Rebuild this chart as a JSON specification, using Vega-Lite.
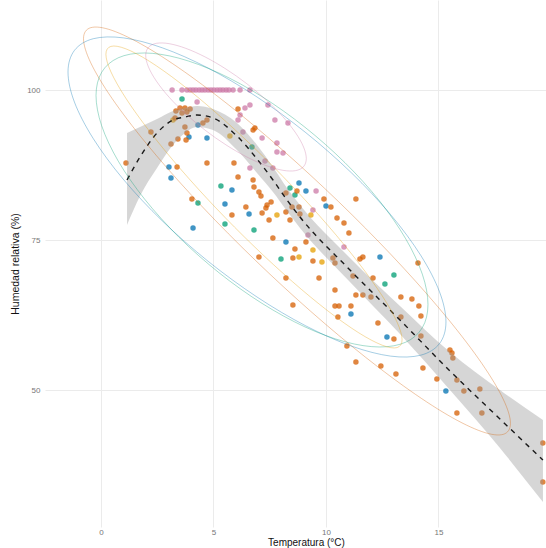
{
  "$schema": "https://vega.github.io/schema/vega-lite/v6.json",
  "autosize": {"type": "none"},
  "padding": {"left": 45, "top": 0, "right": 0, "bottom": 21},
  "width": 501,
  "height": 527,
  "background": "white",
  "config": {
    "view": {"stroke": null},
    "font": "Liberation Sans",
    "axisX": {"grid": true, "gridColor": "#EBEBEB", "gridWidth": 1, "domain": false, "ticks": false, "labelFontSize": 8, "labelColor": "#777777", "labelPadding": 1, "titleFontSize": 10, "titleFontWeight": "normal", "titleColor": "#111111", "titleX": 261, "titleY": 15, "titleBaseline": "middle"},
    "axisY": {"grid": true, "gridColor": "#EBEBEB", "gridWidth": 1, "domain": false, "ticks": false, "labelFontSize": 8, "labelColor": "#777777", "labelPadding": 5, "titleFontSize": 10.5, "titleFontWeight": "normal", "titleColor": "#111111", "titleX": -30, "titleY": 263.5, "titleAngle": 270, "titleBaseline": "middle", "titleAlign": "center"}
  },
  "datasets": {
    "pts": [
      {"t": 3.16, "h": 100, "g": "P"}, {"t": 3.6, "h": 100, "g": "P"}, {"t": 3.82, "h": 100, "g": "P"}, {"t": 3.96, "h": 100, "g": "P"},
      {"t": 4.09, "h": 100, "g": "P"}, {"t": 4.22, "h": 100, "g": "P"}, {"t": 4.36, "h": 100, "g": "P"}, {"t": 4.49, "h": 100, "g": "P"},
      {"t": 4.62, "h": 100, "g": "P"}, {"t": 4.76, "h": 100, "g": "P"}, {"t": 4.89, "h": 100, "g": "P"}, {"t": 5.02, "h": 100, "g": "P"},
      {"t": 5.16, "h": 100, "g": "P"}, {"t": 5.29, "h": 100, "g": "P"}, {"t": 5.42, "h": 100, "g": "P"}, {"t": 5.56, "h": 100, "g": "P"},
      {"t": 5.69, "h": 100, "g": "P"}, {"t": 5.87, "h": 100, "g": "P"}, {"t": 6.18, "h": 100, "g": "P"}, {"t": 6.62, "h": 100, "g": "P"},
      {"t": 4.27, "h": 98.0, "g": "P"}, {"t": 6.4, "h": 97.0, "g": "P"}, {"t": 6.18, "h": 95.83, "g": "P"}, {"t": 6.09, "h": 95.0, "g": "P"},
      {"t": 6.31, "h": 93.0, "g": "P"}, {"t": 6.62, "h": 97.5, "g": "P"}, {"t": 7.42, "h": 97.5, "g": "P"}, {"t": 7.16, "h": 92.0, "g": "P"},
      {"t": 7.73, "h": 95.0, "g": "P"}, {"t": 8.31, "h": 94.5, "g": "P"}, {"t": 7.82, "h": 91.17, "g": "P"}, {"t": 8.09, "h": 89.5, "g": "P"},
      {"t": 7.82, "h": 89.67, "g": "P"}, {"t": 7.64, "h": 87.0, "g": "P"}, {"t": 6.62, "h": 87.0, "g": "P"}, {"t": 7.29, "h": 88.17, "g": "P"},
      {"t": 9.56, "h": 83.17, "g": "P"}, {"t": 9.42, "h": 80.0, "g": "P"}, {"t": 10.8, "h": 73.83, "g": "P"}, {"t": 9.2, "h": 75.83, "g": "P"},
      {"t": 4.31, "h": 94.17, "g": "B"}, {"t": 3.91, "h": 92.17, "g": "B"}, {"t": 4.71, "h": 92.0, "g": "B"}, {"t": 3.02, "h": 87.17, "g": "B"},
      {"t": 3.11, "h": 85.33, "g": "B"}, {"t": 5.82, "h": 83.33, "g": "B"}, {"t": 5.51, "h": 81.0, "g": "B"}, {"t": 6.58, "h": 79.33, "g": "B"},
      {"t": 4.09, "h": 77.0, "g": "B"}, {"t": 8.8, "h": 84.5, "g": "B"}, {"t": 9.11, "h": 83.17, "g": "B"}, {"t": 10.0, "h": 80.67, "g": "B"},
      {"t": 8.22, "h": 74.67, "g": "B"}, {"t": 12.4, "h": 72.17, "g": "B"}, {"t": 11.11, "h": 62.67, "g": "B"}, {"t": 12.71, "h": 58.83, "g": "B"},
      {"t": 15.33, "h": 49.83, "g": "B"},
      {"t": 3.6, "h": 98.5, "g": "G"}, {"t": 6.71, "h": 90.5, "g": "G"}, {"t": 5.33, "h": 84.0, "g": "G"}, {"t": 4.31, "h": 81.17, "g": "G"},
      {"t": 5.51, "h": 77.67, "g": "G"}, {"t": 6.8, "h": 76.67, "g": "G"}, {"t": 8.4, "h": 83.67, "g": "G"}, {"t": 8.62, "h": 82.5, "g": "G"},
      {"t": 8.0, "h": 71.83, "g": "G"}, {"t": 13.02, "h": 69.17, "g": "G"}, {"t": 12.62, "h": 67.67, "g": "G"},
      {"t": 3.2, "h": 95.0, "g": "Y"}, {"t": 5.73, "h": 92.33, "g": "Y"}, {"t": 7.82, "h": 79.17, "g": "Y"}, {"t": 9.33, "h": 79.17, "g": "Y"},
      {"t": 9.42, "h": 73.33, "g": "Y"}, {"t": 9.82, "h": 71.33, "g": "Y"}, {"t": 8.8, "h": 72.17, "g": "Y"},
      {"t": 1.11, "h": 87.83, "g": "V"}, {"t": 3.11, "h": 91.0, "g": "V"}, {"t": 3.42, "h": 91.83, "g": "V"}, {"t": 3.38, "h": 87.17, "g": "V"},
      {"t": 2.22, "h": 93.0, "g": "V"}, {"t": 3.29, "h": 95.33, "g": "V"}, {"t": 3.51, "h": 97.0, "g": "V"}, {"t": 3.73, "h": 97.0, "g": "V"},
      {"t": 3.96, "h": 96.83, "g": "V"}, {"t": 3.82, "h": 96.33, "g": "V"}, {"t": 3.6, "h": 96.17, "g": "V"}, {"t": 3.33, "h": 96.5, "g": "V"},
      {"t": 3.73, "h": 93.83, "g": "V"}, {"t": 3.82, "h": 92.83, "g": "V"}, {"t": 3.78, "h": 91.67, "g": "V"}, {"t": 4.71, "h": 87.83, "g": "V"},
      {"t": 4.71, "h": 95.0, "g": "V"}, {"t": 4.53, "h": 94.5, "g": "V"}, {"t": 6.09, "h": 96.83, "g": "V"}, {"t": 6.76, "h": 93.33, "g": "V"},
      {"t": 6.84, "h": 93.67, "g": "V"}, {"t": 5.91, "h": 87.83, "g": "V"}, {"t": 6.09, "h": 85.5, "g": "V"}, {"t": 4.04, "h": 81.83, "g": "V"},
      {"t": 6.44, "h": 80.5, "g": "V"}, {"t": 5.82, "h": 79.17, "g": "V"}, {"t": 6.76, "h": 85.0, "g": "V"}, {"t": 6.8, "h": 83.83, "g": "V"},
      {"t": 7.02, "h": 83.0, "g": "V"}, {"t": 7.11, "h": 82.33, "g": "V"}, {"t": 7.33, "h": 80.33, "g": "V"}, {"t": 7.47, "h": 78.33, "g": "V"},
      {"t": 7.16, "h": 79.5, "g": "V"}, {"t": 7.56, "h": 81.33, "g": "V"}, {"t": 8.22, "h": 79.67, "g": "V"}, {"t": 8.49, "h": 80.5, "g": "V"},
      {"t": 8.8, "h": 80.5, "g": "V"}, {"t": 8.84, "h": 79.33, "g": "V"}, {"t": 8.4, "h": 78.33, "g": "V"}, {"t": 7.64, "h": 75.33, "g": "V"},
      {"t": 9.11, "h": 74.67, "g": "V"}, {"t": 8.62, "h": 73.5, "g": "V"}, {"t": 8.53, "h": 72.0, "g": "V"}, {"t": 7.02, "h": 72.17, "g": "V"},
      {"t": 8.22, "h": 68.67, "g": "V"}, {"t": 9.69, "h": 68.67, "g": "V"}, {"t": 8.53, "h": 64.17, "g": "V"}, {"t": 10.31, "h": 72.0, "g": "V"},
      {"t": 10.4, "h": 71.17, "g": "V"}, {"t": 10.22, "h": 80.5, "g": "V"}, {"t": 9.91, "h": 81.83, "g": "V"}, {"t": 10.49, "h": 78.67, "g": "V"},
      {"t": 10.8, "h": 77.83, "g": "V"}, {"t": 11.02, "h": 76.17, "g": "V"}, {"t": 11.33, "h": 81.83, "g": "V"}, {"t": 11.51, "h": 71.83, "g": "V"},
      {"t": 11.64, "h": 72.17, "g": "V"}, {"t": 11.2, "h": 69.0, "g": "V"}, {"t": 12.09, "h": 68.67, "g": "V"}, {"t": 10.4, "h": 66.67, "g": "V"},
      {"t": 11.33, "h": 65.83, "g": "V"}, {"t": 11.64, "h": 65.83, "g": "V"}, {"t": 12.0, "h": 65.5, "g": "V"}, {"t": 13.33, "h": 65.5, "g": "V"},
      {"t": 13.82, "h": 65.17, "g": "V"}, {"t": 14.13, "h": 64.0, "g": "V"}, {"t": 14.22, "h": 62.33, "g": "V"}, {"t": 10.4, "h": 64.0, "g": "V"},
      {"t": 10.58, "h": 64.0, "g": "V"}, {"t": 11.11, "h": 64.0, "g": "V"}, {"t": 10.53, "h": 62.17, "g": "V"}, {"t": 12.31, "h": 61.17, "g": "V"},
      {"t": 13.33, "h": 62.17, "g": "V"}, {"t": 13.02, "h": 58.5, "g": "V"}, {"t": 14.22, "h": 59.0, "g": "V"}, {"t": 10.93, "h": 57.33, "g": "V"},
      {"t": 11.33, "h": 54.67, "g": "V"}, {"t": 12.44, "h": 54.0, "g": "V"}, {"t": 13.11, "h": 52.67, "g": "V"}, {"t": 14.31, "h": 53.67, "g": "V"},
      {"t": 15.51, "h": 56.67, "g": "V"}, {"t": 15.6, "h": 56.17, "g": "V"}, {"t": 15.64, "h": 55.33, "g": "V"}, {"t": 14.93, "h": 51.83, "g": "V"},
      {"t": 15.82, "h": 51.67, "g": "V"}, {"t": 16.13, "h": 49.83, "g": "V"}, {"t": 16.84, "h": 50.17, "g": "V"}, {"t": 15.82, "h": 46.17, "g": "V"},
      {"t": 16.93, "h": 46.17, "g": "V"}, {"t": 19.64, "h": 41.17, "g": "V"}, {"t": 19.64, "h": 34.67, "g": "V"}, {"t": 14.09, "h": 71.17, "g": "V"},
      {"t": 8.71, "h": 83.17, "g": "V"}, {"t": 8.22, "h": 82.83, "g": "V"}, {"t": 9.42, "h": 71.5, "g": "V"}, {"t": 7.38, "h": 80.83, "g": "V"}
    ],
    "smooth": [
      {"t": 1.156, "h": 85.0, "lo": 77.5, "hi": 92.83},
      {"t": 1.733, "h": 88.83, "lo": 82.33, "hi": 93.83},
      {"t": 2.489, "h": 92.83, "lo": 87.0, "hi": 95.17},
      {"t": 3.2, "h": 95.0, "lo": 90.83, "hi": 96.5},
      {"t": 3.733, "h": 95.5, "lo": 92.83, "hi": 97.0},
      {"t": 4.267, "h": 95.83, "lo": 93.83, "hi": 97.33},
      {"t": 4.978, "h": 95.33, "lo": 93.33, "hi": 96.83},
      {"t": 6.044, "h": 92.33, "lo": 90.0, "hi": 94.5},
      {"t": 6.933, "h": 88.5, "lo": 86.17, "hi": 90.83},
      {"t": 7.644, "h": 85.0, "lo": 83.0, "hi": 87.17},
      {"t": 8.267, "h": 81.67, "lo": 79.83, "hi": 83.67},
      {"t": 8.844, "h": 78.83, "lo": 77.0, "hi": 80.83},
      {"t": 11.067, "h": 70.0, "lo": 68.0, "hi": 72.0},
      {"t": 13.289, "h": 61.67, "lo": 59.33, "hi": 64.0},
      {"t": 15.511, "h": 53.17, "lo": 50.0, "hi": 56.33},
      {"t": 17.733, "h": 45.17, "lo": 40.33, "hi": 50.0},
      {"t": 19.644, "h": 38.33, "lo": 31.33, "hi": 45.0}
    ],
    "ell": [
      {"g": "V", "i": 0, "t": 18.2, "h": 44.45}, {"g": "V", "i": 1, "t": 17.877, "h": 48.48}, {"g": "V", "i": 2, "t": 16.929, "h": 54.42}, {"g": "V", "i": 3, "t": 15.421, "h": 61.86},
      {"g": "V", "i": 4, "t": 13.456, "h": 70.3}, {"g": "V", "i": 5, "t": 11.167, "h": 79.17}, {"g": "V", "i": 6, "t": 8.711, "h": 87.85}, {"g": "V", "i": 7, "t": 6.255, "h": 95.76},
      {"g": "V", "i": 8, "t": 3.966, "h": 102.35}, {"g": "V", "i": 9, "t": 2.001, "h": 107.19}, {"g": "V", "i": 10, "t": 0.493, "h": 109.93}, {"g": "V", "i": 11, "t": -0.455, "h": 110.39},
      {"g": "V", "i": 12, "t": -0.778, "h": 108.55}, {"g": "V", "i": 13, "t": -0.455, "h": 104.52}, {"g": "V", "i": 14, "t": 0.493, "h": 98.58}, {"g": "V", "i": 15, "t": 2.001, "h": 91.14},
      {"g": "V", "i": 16, "t": 3.966, "h": 82.7}, {"g": "V", "i": 17, "t": 6.255, "h": 73.83}, {"g": "V", "i": 18, "t": 8.711, "h": 65.15}, {"g": "V", "i": 19, "t": 11.167, "h": 57.24},
      {"g": "V", "i": 20, "t": 13.456, "h": 50.65}, {"g": "V", "i": 21, "t": 15.421, "h": 45.81}, {"g": "V", "i": 22, "t": 16.929, "h": 43.07}, {"g": "V", "i": 23, "t": 17.877, "h": 42.61},
      {"g": "B", "i": 0, "t": 15.333, "h": 61.34}, {"g": "B", "i": 1, "t": 15.047, "h": 66.36}, {"g": "B", "i": 2, "t": 14.207, "h": 72.47}, {"g": "B", "i": 3, "t": 12.873, "h": 79.23},
      {"g": "B", "i": 4, "t": 11.133, "h": 86.19}, {"g": "B", "i": 5, "t": 9.107, "h": 92.88}, {"g": "B", "i": 6, "t": 6.933, "h": 98.84}, {"g": "B", "i": 7, "t": 4.759, "h": 103.66},
      {"g": "B", "i": 8, "t": 2.733, "h": 107.02}, {"g": "B", "i": 9, "t": 0.993, "h": 108.69}, {"g": "B", "i": 10, "t": -0.341, "h": 108.55}, {"g": "B", "i": 11, "t": -1.181, "h": 106.6},
      {"g": "B", "i": 12, "t": -1.467, "h": 103.0}, {"g": "B", "i": 13, "t": -1.181, "h": 97.98}, {"g": "B", "i": 14, "t": -0.341, "h": 91.88}, {"g": "B", "i": 15, "t": 0.993, "h": 85.11},
      {"g": "B", "i": 16, "t": 2.733, "h": 78.15}, {"g": "B", "i": 17, "t": 4.759, "h": 71.46}, {"g": "B", "i": 18, "t": 6.933, "h": 65.5}, {"g": "B", "i": 19, "t": 9.107, "h": 60.68},
      {"g": "B", "i": 20, "t": 11.133, "h": 57.32}, {"g": "B", "i": 21, "t": 12.873, "h": 55.65}, {"g": "B", "i": 22, "t": 14.207, "h": 55.8}, {"g": "B", "i": 23, "t": 15.047, "h": 57.74},
      {"g": "G", "i": 0, "t": 14.534, "h": 64.25}, {"g": "G", "i": 1, "t": 14.283, "h": 69.3}, {"g": "G", "i": 2, "t": 13.545, "h": 75.2}, {"g": "G", "i": 3, "t": 12.373, "h": 81.54},
      {"g": "G", "i": 4, "t": 10.845, "h": 87.88}, {"g": "G", "i": 5, "t": 9.065, "h": 93.8}, {"g": "G", "i": 6, "t": 7.156, "h": 98.9}, {"g": "G", "i": 7, "t": 5.247, "h": 102.82},
      {"g": "G", "i": 8, "t": 3.467, "h": 105.3}, {"g": "G", "i": 9, "t": 1.939, "h": 106.17}, {"g": "G", "i": 10, "t": 0.767, "h": 105.37}, {"g": "G", "i": 11, "t": 0.029, "h": 102.96},
      {"g": "G", "i": 12, "t": -0.222, "h": 99.09}, {"g": "G", "i": 13, "t": 0.029, "h": 94.04}, {"g": "G", "i": 14, "t": 0.767, "h": 88.14}, {"g": "G", "i": 15, "t": 1.939, "h": 81.81},
      {"g": "G", "i": 16, "t": 3.467, "h": 75.46}, {"g": "G", "i": 17, "t": 5.247, "h": 69.54}, {"g": "G", "i": 18, "t": 7.156, "h": 64.44}, {"g": "G", "i": 19, "t": 9.065, "h": 60.52},
      {"g": "G", "i": 20, "t": 10.845, "h": 58.04}, {"g": "G", "i": 21, "t": 12.373, "h": 57.17}, {"g": "G", "i": 22, "t": 13.545, "h": 57.97}, {"g": "G", "i": 23, "t": 14.283, "h": 60.39},
      {"g": "Y", "i": 0, "t": 13.382, "h": 58.39}, {"g": "Y", "i": 1, "t": 13.158, "h": 61.33}, {"g": "Y", "i": 2, "t": 12.5, "h": 65.69}, {"g": "Y", "i": 3, "t": 11.454, "h": 71.17},
      {"g": "Y", "i": 4, "t": 10.091, "h": 77.4}, {"g": "Y", "i": 5, "t": 8.503, "h": 83.96}, {"g": "Y", "i": 6, "t": 6.8, "h": 90.39}, {"g": "Y", "i": 7, "t": 5.097, "h": 96.26},
      {"g": "Y", "i": 8, "t": 3.509, "h": 101.18}, {"g": "Y", "i": 9, "t": 2.146, "h": 104.8}, {"g": "Y", "i": 10, "t": 1.1, "h": 106.87}, {"g": "Y", "i": 11, "t": 0.442, "h": 107.27},
      {"g": "Y", "i": 12, "t": 0.218, "h": 105.95}, {"g": "Y", "i": 13, "t": 0.442, "h": 103.01}, {"g": "Y", "i": 14, "t": 1.1, "h": 98.65}, {"g": "Y", "i": 15, "t": 2.146, "h": 93.17},
      {"g": "Y", "i": 16, "t": 3.509, "h": 86.94}, {"g": "Y", "i": 17, "t": 5.097, "h": 80.38}, {"g": "Y", "i": 18, "t": 6.8, "h": 73.95}, {"g": "Y", "i": 19, "t": 8.503, "h": 68.08},
      {"g": "Y", "i": 20, "t": 10.091, "h": 63.16}, {"g": "Y", "i": 21, "t": 11.454, "h": 59.54}, {"g": "Y", "i": 22, "t": 12.5, "h": 57.47}, {"g": "Y", "i": 23, "t": 13.158, "h": 57.07},
      {"g": "P", "i": 0, "t": 9.125, "h": 88.57}, {"g": "P", "i": 1, "t": 9.003, "h": 90.5}, {"g": "P", "i": 2, "t": 8.647, "h": 92.88}, {"g": "P", "i": 3, "t": 8.08, "h": 95.56},
      {"g": "P", "i": 4, "t": 7.341, "h": 98.34}, {"g": "P", "i": 5, "t": 6.48, "h": 101.05}, {"g": "P", "i": 6, "t": 5.556, "h": 103.49}, {"g": "P", "i": 7, "t": 4.632, "h": 105.5},
      {"g": "P", "i": 8, "t": 3.771, "h": 106.94}, {"g": "P", "i": 9, "t": 3.032, "h": 107.72}, {"g": "P", "i": 10, "t": 2.465, "h": 107.78}, {"g": "P", "i": 11, "t": 2.109, "h": 107.11},
      {"g": "P", "i": 12, "t": 1.987, "h": 105.77}, {"g": "P", "i": 13, "t": 2.109, "h": 103.84}, {"g": "P", "i": 14, "t": 2.465, "h": 101.46}, {"g": "P", "i": 15, "t": 3.032, "h": 98.78},
      {"g": "P", "i": 16, "t": 3.771, "h": 96.0}, {"g": "P", "i": 17, "t": 4.632, "h": 93.29}, {"g": "P", "i": 18, "t": 5.556, "h": 90.85}, {"g": "P", "i": 19, "t": 6.48, "h": 88.84},
      {"g": "P", "i": 20, "t": 7.341, "h": 87.4}, {"g": "P", "i": 21, "t": 8.08, "h": 86.62}, {"g": "P", "i": 22, "t": 8.647, "h": 86.56}, {"g": "P", "i": 23, "t": 9.003, "h": 87.23}
    ]
  },
  "layer": [
    {
      "data": {"name": "pts"},
      "mark": {"type": "circle", "size": 30, "opacity": 0.75, "clip": true},
      "encoding": {
        "x": {"field": "t", "type": "quantitative", "title": "Temperatura (°C)", "scale": {"domain": [-2.49, 19.78], "nice": false, "zero": false}, "axis": {"values": [0, 5, 10, 15]}},
        "y": {"field": "h", "type": "quantitative", "title": "Humedad relativa (%)", "scale": {"domain": [27.17, 115], "nice": false, "zero": false}, "axis": {"values": [50, 75, 100]}},
        "color": {"field": "g", "type": "nominal", "legend": null, "scale": {"domain": ["V", "B", "G", "P", "Y"], "range": ["#D55E00", "#0072B2", "#009E73", "#CC79A7", "#E69F00"]}}
      }
    },
    {
      "data": {"name": "smooth"},
      "mark": {"type": "area", "color": "#999999", "opacity": 0.4, "interpolate": "monotone", "clip": true},
      "encoding": {
        "x": {"field": "t", "type": "quantitative", "title": "Temperatura (°C)", "scale": {"domain": [-2.49, 19.78], "nice": false, "zero": false}},
        "y": {"field": "lo", "type": "quantitative", "title": "Humedad relativa (%)", "scale": {"domain": [27.17, 115], "nice": false, "zero": false}},
        "y2": {"field": "hi"}
      }
    },
    {
      "data": {"name": "smooth"},
      "mark": {"type": "line", "color": "#1a1a1a", "strokeWidth": 1.4, "strokeDash": [5, 5], "interpolate": "monotone", "clip": true},
      "encoding": {
        "x": {"field": "t", "type": "quantitative", "title": "Temperatura (°C)", "scale": {"domain": [-2.49, 19.78], "nice": false, "zero": false}},
        "y": {"field": "h", "type": "quantitative", "title": "Humedad relativa (%)", "scale": {"domain": [27.17, 115], "nice": false, "zero": false}}
      }
    },
    {
      "data": {"name": "ell"},
      "mark": {"type": "line", "interpolate": "cardinal-closed", "strokeWidth": 1, "opacity": 0.35, "clip": true},
      "encoding": {
        "x": {"field": "t", "type": "quantitative", "title": "Temperatura (°C)", "scale": {"domain": [-2.49, 19.78], "nice": false, "zero": false}},
        "y": {"field": "h", "type": "quantitative", "title": "Humedad relativa (%)", "scale": {"domain": [27.17, 115], "nice": false, "zero": false}},
        "color": {"field": "g", "type": "nominal", "legend": null, "scale": {"domain": ["V", "B", "G", "P", "Y"], "range": ["#D55E00", "#0072B2", "#009E73", "#CC79A7", "#E69F00"]}},
        "order": {"field": "i", "type": "quantitative"}
      }
    }
  ]
}
